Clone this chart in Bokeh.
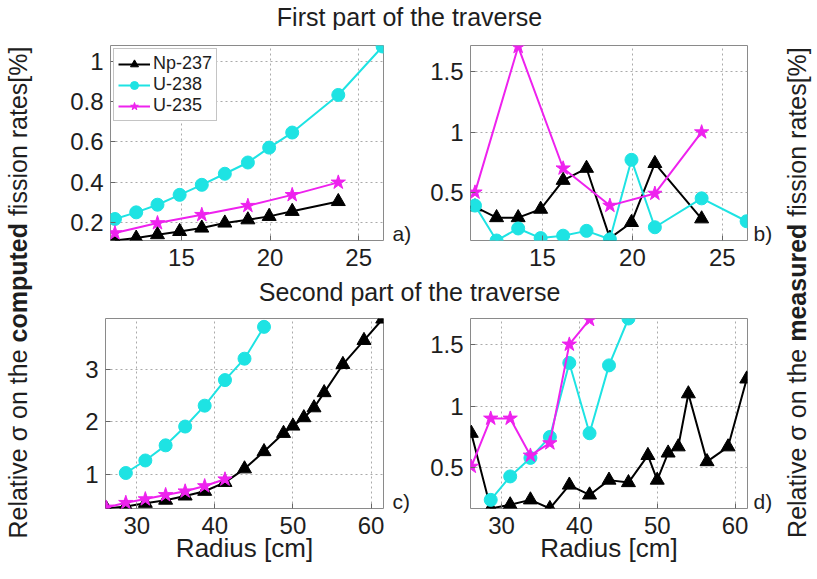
from bokeh.plotting import figure
from bokeh.layouts import row, column
from bokeh.models import (Range1d, FixedTicker, Label, Legend, LegendItem, NumeralTickFormatter,
                          LinearAxis, CustomJSTickFormatter)
from bokeh.embed import file_html
from bokeh.resources import INLINE

# ---------------- data ----------------
# first part of the traverse (radius in cm)
radius_1 = [11.25, 12.45, 13.65, 14.9, 16.15, 17.45, 18.75, 19.95, 21.25, 23.85, 26.35]
radius_1_np = [11.25, 12.45, 13.65, 14.9, 16.15, 17.45, 18.75, 19.95, 21.25, 23.85]
radius_1_u235 = [11.25, 13.65, 16.15, 18.75, 21.25, 23.85]

np237_comp_1 = [0.11, 0.122, 0.139, 0.155, 0.172, 0.197, 0.213, 0.23, 0.255, 0.304]
u238_comp_1 = [0.217, 0.25, 0.288, 0.337, 0.387, 0.442, 0.498, 0.572, 0.647, 0.834, 1.075]
u235_comp_1 = [0.147, 0.197, 0.238, 0.283, 0.337, 0.399]

np237_meas_1 = [0.38, 0.29, 0.29, 0.36, 0.60, 0.70, 0.12, 0.25, 0.74, 0.28]
u238_meas_1 = [0.39, 0.10, 0.20, 0.12, 0.14, 0.18, 0.11, 0.77, 0.21, 0.45, 0.26]
u235_meas_1 = [0.50, 1.71, 0.70, 0.39, 0.49, 1.00]

# second part of the traverse
radius_2 = [26.1, 28.6, 31.1, 33.7, 36.2, 38.7, 41.3, 43.8, 46.3, 48.8, 50.0, 51.4, 52.7, 54.0, 56.4, 59.1, 61.5]
radius_2_u238 = [28.6, 31.1, 33.7, 36.2, 38.7, 41.3, 43.8, 46.3]
radius_2_u235 = [26.1, 28.6, 31.1, 33.7, 36.2, 38.7, 41.3]

np237_comp_2 = [0.34, 0.38, 0.44, 0.50, 0.58, 0.67, 0.84, 1.10, 1.43, 1.78, 1.92, 2.08, 2.27, 2.56, 3.10, 3.56, 3.97]
u238_comp_2 = [1.02, 1.26, 1.55, 1.91, 2.31, 2.80, 3.21, 3.82]
u235_comp_2 = [0.36, 0.45, 0.52, 0.60, 0.67, 0.77, 0.90]

np237_meas_2 = [0.78, 0.17, 0.20, 0.24, 0.17, 0.36, 0.28, 0.40, 0.38, 0.60, 0.40, 0.62, 0.67, 1.10, 0.55, 0.67, 1.22]
u238_meas_2 = [0.24, 0.43, 0.58, 0.75, 1.35, 0.78, 1.33, 1.71]
u235_meas_2 = [0.51, 0.90, 0.90, 0.60, 0.70, 1.50, 1.70]

series_names = ["Np-237", "U-238", "U-235"]
panel_names = ["a)", "b)", "c)", "d)"]
titles = ["First part of the traverse", "Second part of the traverse"]

# axis limits and ticks
xlim_1 = (11.0, 26.4)
xlim_2 = (26.0, 61.6)
ylim_a = (0.11, 1.08)
ylim_b = (0.10, 1.72)
ylim_c = (0.34, 3.98)
ylim_d = (0.17, 1.71)
xticks_1 = [15, 20, 25]
xticks_2 = [30, 40, 50, 60]
yticks_a = [0.2, 0.4, 0.6, 0.8, 1]
yticks_b = [0.5, 1, 1.5]
yticks_c = [1, 2, 3]
yticks_d = [0.5, 1, 1.5]

# ---------------- style ----------------
FONT = "Liberation Sans"
TXT = "#1e1e1e"
BLACK = "#000000"
CYAN = "#1ee3e3"
MAGENTA = "#ee22ee"
TOTAL_H = 578


def make_panel(w, h, bl, br, bt, bb, xlim, ylim, xt, yt, xstand, letter, letter_stand):
    p = figure(width=w, height=h, x_range=Range1d(*xlim), y_range=Range1d(*ylim),
               output_backend="svg", toolbar_location=None, title=None,
               min_border_left=bl, min_border_right=br, min_border_top=bt, min_border_bottom=bb,
               background_fill_color="white", border_fill_color="white")
    p.outline_line_color = "#8a8a8a"
    p.outline_line_width = 1
    p.xaxis.ticker = FixedTicker(ticks=xt)
    p.yaxis.ticker = FixedTicker(ticks=yt)
    p.yaxis.formatter = NumeralTickFormatter(format="0.[0]")
    # panel letter: label of a single tick on a right-hand axis, just above the frame bottom
    frame_h = h - bt - bb
    letter_pos = ylim[0] + 7.0 / frame_h * (ylim[1] - ylim[0])
    rax = LinearAxis(ticker=FixedTicker(ticks=[letter_pos]),
                     formatter=CustomJSTickFormatter(code='return "%s"' % letter))
    rax.major_label_standoff = letter_stand
    rax.major_tick_line_color = None
    rax.minor_tick_line_color = None
    rax.axis_line_color = None
    rax.major_label_text_font = FONT
    rax.major_label_text_font_size = "21px"
    rax.major_label_text_color = TXT
    p.add_layout(rax, "right")
    p.axis.major_tick_in = 5
    p.axis.major_tick_out = 0
    for ax in (p.xaxis[0], p.yaxis[0]):
        ax.axis_line_color = None
        ax.major_tick_line_color = "#666666"
        ax.minor_tick_line_color = None
        ax.major_label_text_font = FONT
        ax.major_label_text_font_size = "24px"
        ax.major_label_text_color = TXT
    p.xaxis[0].major_label_standoff = xstand
    p.yaxis[0].major_label_standoff = 7
    p.grid.grid_line_color = "#aaaaaa"
    p.grid.grid_line_dash = "2 3"
    p.grid.grid_line_width = 1
    return p


def add_series(p, x, y, color, marker, size):
    ln = p.line(x, y, line_color=color, line_width=2)
    sc = p.scatter(x, y, marker=marker, size=size, fill_color=color, line_color=color)
    return [ln, sc]


# panel a
pa = make_panel(380, 246, 70, 37, 15, 36, xlim_1, ylim_a, xticks_1, yticks_a, 8, panel_names[0], 9)
ra = add_series(pa, radius_1_np, np237_comp_1, BLACK, "triangle", 14)
rb = add_series(pa, radius_1, u238_comp_1, CYAN, "circle", 13)
rc = add_series(pa, radius_1_u235, u235_comp_1, MAGENTA, "star", 15)
leg = Legend(items=[LegendItem(label=series_names[0], renderers=ra),
                    LegendItem(label=series_names[1], renderers=rb),
                    LegendItem(label=series_names[2], renderers=rc)],
             location="top_left", margin=3, padding=4, spacing=0,
             glyph_width=32, glyph_height=20, label_height=20, label_standoff=3,
             label_text_font=FONT, label_text_font_size="18px", label_text_color=TXT,
             border_line_color="#8a8a8a", border_line_width=1, background_fill_color="white",
             background_fill_alpha=1.0)
pa.add_layout(leg)

# panel b
pb = make_panel(358, 246, 50, 31, 15, 36, xlim_1, ylim_b, xticks_1, yticks_b, 8, panel_names[1], 6)
add_series(pb, radius_1_np, np237_meas_1, BLACK, "triangle", 14)
add_series(pb, radius_1, u238_meas_1, CYAN, "circle", 13)
add_series(pb, radius_1_u235, u235_meas_1, MAGENTA, "star", 15)

# panel c
pc = make_panel(380, 272, 65, 37, 12, 70, xlim_2, ylim_c, xticks_2, yticks_c, 8, panel_names[2], 9)
add_series(pc, radius_2, np237_comp_2, BLACK, "triangle", 14)
add_series(pc, radius_2_u238, u238_comp_2, CYAN, "circle", 13)
add_series(pc, radius_2_u235, u235_comp_2, MAGENTA, "star", 15)

# panel d
pd = make_panel(358, 272, 50, 31, 12, 70, xlim_2, ylim_d, xticks_2, yticks_d, 8, panel_names[3], 6)
add_series(pd, radius_2, np237_meas_2, BLACK, "triangle", 14)
add_series(pd, radius_2_u238, u238_meas_2, CYAN, "circle", 13)
add_series(pd, radius_2_u235, u235_meas_2, MAGENTA, "star", 15)

for p in (pc, pd):
    ax = p.xaxis[0]
    ax.axis_label = "Radius [cm]"
    ax.axis_label_text_font = FONT
    ax.axis_label_text_font_size = "26px"
    ax.axis_label_text_font_style = "normal"
    ax.axis_label_text_color = TXT
    ax.axis_label_standoff = -4


def blank(w, h, title=None):
    p = figure(width=w, height=h, x_range=Range1d(0, 1), y_range=Range1d(0, 1),
               output_backend="svg", toolbar_location=None, title=title, min_border=0,
               x_axis_location=None, y_axis_location=None)
    p.outline_line_color = None
    p.grid.visible = False
    return p


def title_fig(text, w, h, standoff, offset):
    p = blank(w, h, title=text)
    p.title.align = "center"
    p.title.offset = offset
    p.title.standoff = standoff
    p.title.text_font = FONT
    p.title.text_font_size = "25px"
    p.title.text_font_style = "normal"
    p.title.text_color = TXT
    return p


t1 = title_fig(titles[0], 738, 30, 0, 7)
t2 = title_fig(titles[1], 738, 30, 2, 7)


def side_fig(w, anchor_x, bold_word, bold_em):
    p = blank(w, TOTAL_H)
    f = 25
    pre_em, post_em, sp = 7.52, 6.78, 0.278
    total = (pre_em + sp + bold_em + sp + post_em) * f
    center = TOTAL_H - 291.5
    y0 = center - total / 2
    y_bold = y0 + (pre_em + sp) * f
    y_post = y_bold + (bold_em + sp) * f
    common = dict(x=anchor_x, x_units="screen", y_units="screen", angle=90, angle_units="deg",
                  text_font=FONT, text_font_size=f"{f}px", text_color=TXT, text_baseline="alphabetic")
    p.add_layout(Label(y=y_bold - sp * f, text="Relative σ on the", text_align="right", **common))
    p.add_layout(Label(y=y_bold, text=bold_word, text_align="left", text_font_style="bold", **common))
    p.add_layout(Label(y=y_post, text="fission rates[%]", text_align="left", **common))
    return p


left = side_fig(40, 17, "computed", 4.778)
right = side_fig(39, 18, "measured", 4.724)

layout = row(left, column(t1, row(pa, pb), t2, row(pc, pd)), right)

with open("out.html", "w") as fh:
    fh.write(file_html(layout, INLINE, title="Relative sigma on fission rates"))
